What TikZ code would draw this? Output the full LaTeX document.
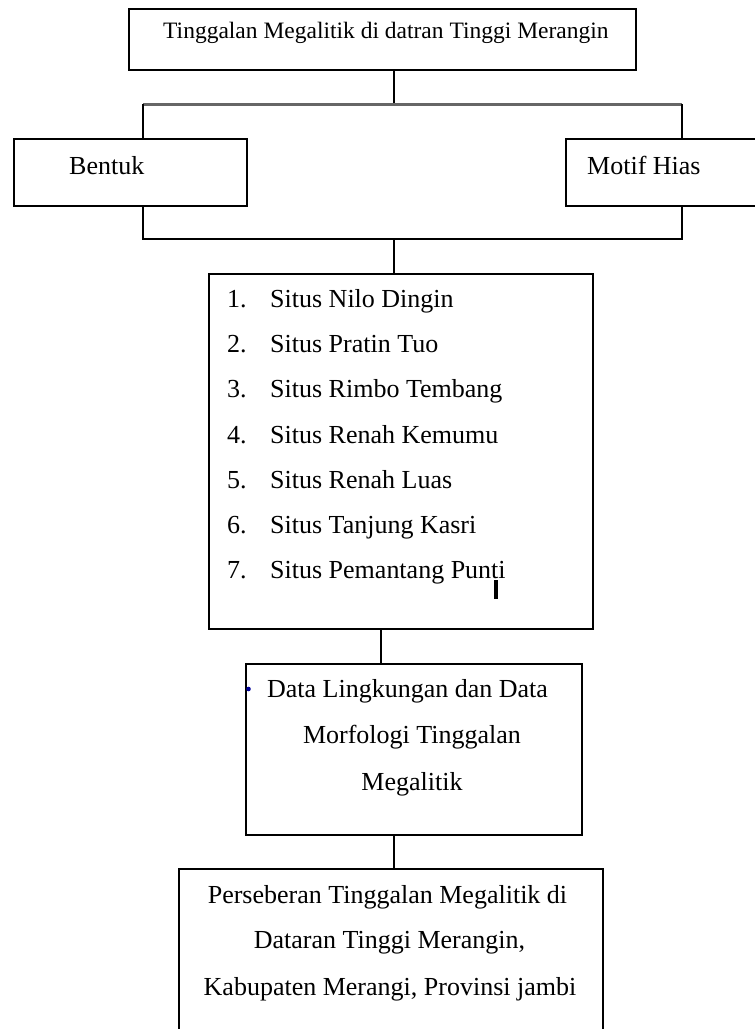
\documentclass[tikz,border=0pt]{standalone}
\usepackage{fontspec}
\setmainfont{Liberation Serif}
\begin{document}
\begin{tikzpicture}[x=1pt,y=-1pt,
  box/.style={draw=black, line width=2.2pt, rectangle, inner sep=0pt, anchor=north west},
  txt/.style={font=\fontsize{26}{26}\selectfont, inner sep=0pt, text=black},
  conn/.style={line width=2.2pt, draw=black},
  bar/.style={line width=3pt, draw=black!60}]
\useasboundingbox (0,0) rectangle (755,1029);
\clip (0,0) rectangle (755,1029);
% boxes
\node[box, minimum width=507pt, minimum height=61pt] (top) at (128,8) {};
\node[box, minimum width=233pt, minimum height=67pt] (bentuk) at (13,138) {};
\node[box, minimum width=220pt, minimum height=67pt] (motif) at (565,138) {};
\node[box, minimum width=384pt, minimum height=355pt] (list) at (208,273) {};
\node[box, minimum width=336pt, minimum height=171pt] (data) at (245,663) {};
\node[box, minimum width=424pt, minimum height=200pt] (hasil) at (178,868) {};
% junction coordinates
\coordinate (jt) at (394,104);
\coordinate (bl) at (143,104);
\coordinate (br) at (682,104);
\coordinate (ml) at (143,239);
\coordinate (mr) at (682,239);
\coordinate (jm) at (394,239);
\coordinate (xa) at (381,0);
\coordinate (xb) at (394,0);
% connectors
\draw[conn] (top.south -| jt) -- (jt);
\draw[bar] (bl) -- (br);
\draw[conn] (bl) -- (bentuk.north -| bl);
\draw[conn] (br) -- (motif.north -| br);
\draw[conn] (bentuk.south -| ml) -- (ml) -- (mr) -- (motif.south -| mr);
\draw[conn] (jm) -- (list.north -| jm);
\draw[conn] (list.south -| xa) -- (data.north -| xa);
\draw[conn] (data.south -| xb) -- (hasil.north -| xb);
% texts
\node[txt, font=\fontsize{23.5}{23.5}\selectfont, anchor=base west] (ttop) at (163,38) {Tinggalan Megalitik di datran Tinggi Merangin};
\node[txt, anchor=base west] (tbentuk) at (69,174) {Bentuk};
\node[txt, anchor=base west] (tmotif) at (587,174) {Motif Hias};
\foreach \n/\s/\y in {1/Situs Nilo Dingin/307, 2/Situs Pratin Tuo/352.5, 3/Situs Rimbo Tembang/397.5, 4/Situs Renah Kemumu/443, 5/Situs Renah Luas/488, 6/Situs Tanjung Kasri/533, 7/Situs Pemantang Punti/578}{
  \node[txt, anchor=base west] (num\n) at (227,\y) {\n.};
  \node[txt, anchor=base west] (site\n) at (270,\y) {\s};
}
\node[txt, anchor=base] (d1) at (407.5,697) {Data Lingkungan dan Data};
\node[txt, anchor=base] (d2) at (412,743) {Morfologi Tinggalan};
\node[txt, anchor=base] (d3) at (412,790) {Megalitik};
\node[txt, anchor=base] (h1) at (387.5,903) {Perseberan Tinggalan Megalitik di};
\node[txt, anchor=base] (h2) at (389.5,948) {Dataran Tinggi Merangin,};
\node[txt, anchor=base] (h3) at (390,995) {Kabupaten Merangi, Provinsi jambi};
% small artifacts
\fill[blue!60!black] (248.5,689) circle (2.3pt);
\fill[black] (493.5,580) rectangle (497.5,599);
\end{tikzpicture}
\end{document}
